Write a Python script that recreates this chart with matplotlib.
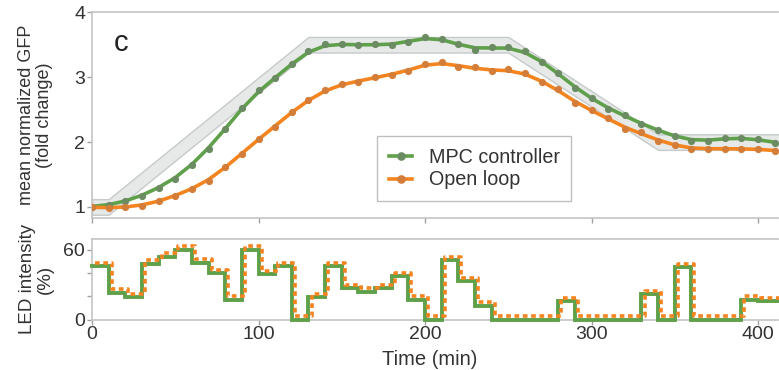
import numpy as np
import matplotlib
matplotlib.use("Agg")
import matplotlib.pyplot as plt
import matplotlib.transforms as mtransforms

plt.rcParams['font.family'] = ['Liberation Sans', 'DejaVu Sans']

# ---- data ----
time = np.arange(0, 411, 10)
mpc = [1.00, 1.03, 1.085, 1.17, 1.30, 1.43, 1.65, 1.90, 2.20, 2.52, 2.80, 2.98, 3.21, 3.41,
       3.51, 3.51, 3.49, 3.51, 3.49, 3.55, 3.62, 3.59, 3.51, 3.42, 3.46, 3.46, 3.41, 3.24,
       3.07, 2.83, 2.68, 2.51, 2.41, 2.28, 2.18, 2.09, 2.02, 2.02, 2.06, 2.06, 2.05, 1.98]
open_loop = [1.00, 0.98, 1.00, 1.02, 1.085, 1.17, 1.28, 1.40, 1.61, 1.82, 2.05, 2.24, 2.47, 2.65,
             2.80, 2.90, 2.93, 3.00, 3.04, 3.10, 3.20, 3.24, 3.16, 3.15, 3.09, 3.12, 3.07, 2.93,
             2.82, 2.60, 2.49, 2.37, 2.20, 2.15, 2.01, 1.96, 1.89, 1.90, 1.90, 1.89, 1.90, 1.86]

# reference trajectory (breakpoints) and tolerance band half-width
ref_t = [0, 10, 130, 250, 340, 420]
ref_v = [1.0, 1.0, 3.5, 3.5, 2.0, 2.0]
band_half = 0.12

# LED input, one value per 10-min interval starting at each time
led_t = np.arange(0, 411, 10)
led = [46, 23, 19, 48, 54, 60, 49, 40, 17, 60, 39, 46, 0, 19, 46, 27, 24, 27, 37, 17,
       0, 51, 33, 12, 0, 0, 0, 0, 16, 0, 0, 0, 0, 22, 0, 45, 0, 0, 0, 17, 16, 16]

green_line = '#5fa04a'
green_dot = '#6b8c62'
orange_line = '#f4841f'
orange_dot = '#d47d38'
spine_c = '#c4c4c4'
text_c = '#333333'

def smooth(v):
    v = np.asarray(v, float)
    p = np.concatenate([[v[0]], v, [v[-1]]])
    return 0.25 * p[:-2] + 0.5 * p[1:-1] + 0.25 * p[2:]

W, H = 779, 370
fig = plt.figure(figsize=(W / 100, H / 100), dpi=100)

left = 92 / W
width = 686 / W
ax1 = fig.add_axes([left, 1 - 218 / H, width, (218 - 12.3) / H])
ax2 = fig.add_axes([left, 1 - 319.5 / H, width, (319.5 - 239.3) / H])

# ---- top panel ----
rt = np.array(ref_t, float)
rv = np.array(ref_v, float)
ax1.fill_between(rt, rv - band_half, rv + band_half, facecolor='#e7e9e9',
                 edgecolor='#c6caca', linewidth=1.0, zorder=1)

t = np.asarray(time, float)
ax1.plot(t, smooth(mpc), color=green_line, lw=2.6, zorder=3, solid_capstyle='round')
ax1.plot(t, mpc, 'o', color=green_dot, ms=5.2, mew=0, zorder=4)
ax1.plot(t, smooth(open_loop), color=orange_line, lw=2.6, zorder=3, solid_capstyle='round')
ax1.plot(t, open_loop, 'o', color=orange_dot, ms=5.2, mew=0, zorder=4)

# legend proxies
h1, = ax1.plot([], [], '-o', color=green_line, mfc=green_dot, mec=green_dot, ms=5.2, lw=2.6)
h2, = ax1.plot([], [], '-o', color=orange_line, mfc=orange_dot, mec=orange_dot, ms=5.2, lw=2.6)
leg = ax1.legend([h1, h2], ['MPC controller', 'Open loop'], loc='upper left',
                 bbox_to_anchor=(0.416, 0.40), borderaxespad=0, fancybox=False,
                 framealpha=1, edgecolor='#bfbfbf', fontsize=14.2, handlelength=1.15,
                 handletextpad=0.85, labelspacing=0.2, borderpad=0.6)
leg.get_frame().set_linewidth(1.0)
for txt in leg.get_texts():
    txt.set_color(text_c)

ax1.set_xlim(0, 412)
ax1.set_ylim(0.83, 4.0)
ax1.set_yticks([1, 2, 3, 4])
ax1.set_xticks([0, 100, 200, 300, 400])
ax1.set_xticklabels([])
ax1.text(0.031, 0.85, 'c', transform=ax1.transAxes, fontsize=21, color='#222222',
         ha='left', va='center')
ax1.set_ylabel('mean normalized GFP\n(fold change)', fontsize=13, color=text_c,
               linespacing=1.1)
ax1.yaxis.set_label_coords(-0.057, 0.5)

# ---- bottom panel ----
lt = np.append(np.asarray(led_t, float), 420.0)
lv = np.append(np.asarray(led, float), led[-1])
ax2.step(lt, lv, where='post', color=green_line, lw=2.8, zorder=3,
         solid_joinstyle='miter', clip_on=False)
offset = mtransforms.ScaledTranslation(2.2 / 72, 2.4 / 72, fig.dpi_scale_trans)
ax2.step(lt, lv, where='post', color=orange_line, lw=2.6, zorder=4,
         linestyle=(0, (1.3, 1.0)), transform=ax2.transData + offset, clip_on=False)

ax2.set_xlim(0, 412)
ax2.set_ylim(0, 69)
ax2.set_yticks([0, 20, 40, 60])
ax2.set_yticklabels(['0', '', '', '60'])
ax2.set_xticks([0, 100, 200, 300, 400])
ax2.set_ylabel('LED intensity\n(%)', fontsize=13.5, color=text_c, linespacing=1.1)
ax2.yaxis.set_label_coords(-0.055, 0.5)
ax2.set_xlabel('Time (min)', fontsize=14.5, color=text_c, labelpad=1)
ax2.xaxis.set_label_coords((430 - 92) / 686, -0.38)

for ax in (ax1, ax2):
    ax.spines['right'].set_visible(False)
    for s in ('left', 'bottom', 'top'):
        ax.spines[s].set_color(spine_c)
        ax.spines[s].set_linewidth(1.2)
    ax.tick_params(direction='out', length=3.5, width=1.0, color='#a0a0a0',
                   labelsize=14, labelcolor=text_c, pad=1.5)
    ax.set_facecolor('white')

fig.savefig('out.png', dpi=100)
